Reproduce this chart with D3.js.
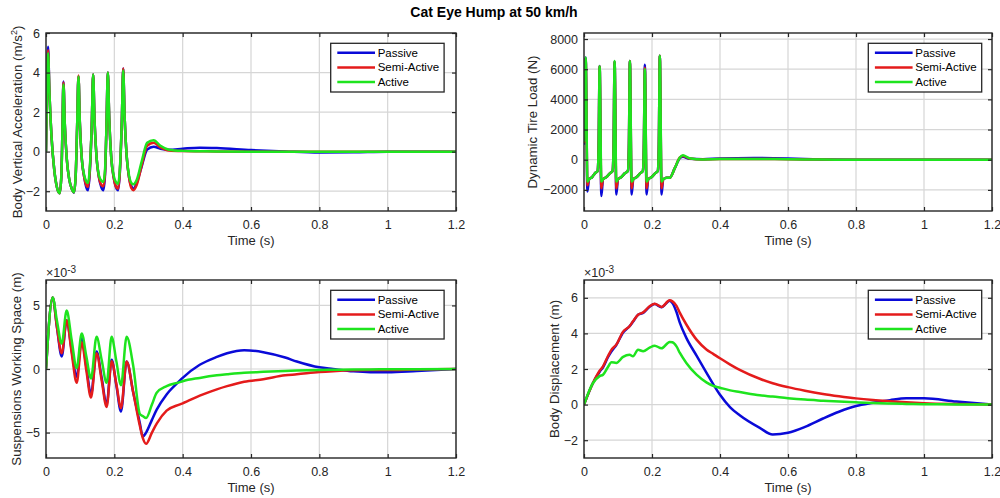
<!DOCTYPE html>
<html lang="en">

<head>
  <title>Cat Eye Hump at 50 km/h</title>
  <meta charset="UTF-8">
  <style>
    body {
      margin: 0;
      background: #fff;
    }
    svg {
      font-family: "Liberation Sans", Arial, sans-serif;
    }
  </style>
</head>

<body>
  <div id="container"></div>
  <script src="https://cdn.jsdelivr.net/npm/d3@7/dist/d3.min.js"></script>
  <script>
    const seriesNames = ['Passive', 'Semi-Active', 'Active'];
    const seriesColors = ['#0a0ad8', '#e41b1b', '#1ee41e'];
    const timeTicks = [0, 0.2, 0.4, 0.6, 0.8, 1, 1.2];

    // body vertical acceleration (m/s^2)
    const accTime = [0, 0.003, 0.006, 0.01, 0.016, 0.024, 0.032, 0.04, 0.045, 0.048, 0.051, 0.055, 0.061, 0.068, 0.076, 0.082,
      0.087, 0.091, 0.095, 0.099, 0.105, 0.112, 0.118, 0.123, 0.128, 0.134, 0.138, 0.142, 0.148, 0.155, 0.162, 0.168,
      0.173, 0.177, 0.181, 0.185, 0.191, 0.198, 0.205, 0.211, 0.216, 0.222, 0.226, 0.23, 0.236, 0.243, 0.25, 0.256,
      0.265, 0.28, 0.296, 0.315, 0.335, 0.36, 0.4, 0.45, 0.5, 0.6, 0.7, 0.8, 0.9, 1.0, 1.2];
    const accPassive = [0, 3.6, 5.3, 3.0, 0.8, -0.9, -1.8, -2.1, -1.2, 1.0, 3.55, 1.4, -0.4, -1.4, -1.9, -2.07,
      -1.2, 1.2, 3.8, 1.5, -0.4, -1.3, -1.8, -1.95, -1.1, 1.4, 3.9, 1.6, -0.3, -1.3, -1.8, -1.95,
      -1.1, 1.3, 4.0, 1.7, -0.3, -1.3, -1.8, -1.95, -1.1, 1.6, 4.2, 1.8, -0.2, -1.3, -1.75, -1.87,
      -1.6, -0.75, 0.1, 0.25, 0.15, 0.1, 0.15, 0.2, 0.18, 0.08, 0.01, -0.04, -0.03, 0, 0];
    const accSemi = [0, 3.5, 5.13, 3.0, 0.8, -0.9, -1.8, -2.1, -1.2, 1.0, 3.5, 1.4, -0.4, -1.4, -1.9, -2.05,
      -1.15, 1.2, 3.85, 1.5, -0.4, -1.3, -1.7, -1.78, -1.0, 1.4, 3.9, 1.6, -0.3, -1.3, -1.68, -1.75,
      -1.0, 1.3, 4.0, 1.7, -0.3, -1.3, -1.78, -1.87, -1.05, 1.6, 4.2, 1.8, -0.2, -1.3, -1.85, -1.95,
      -1.7, -0.7, 0.3, 0.45, 0.22, 0.06, 0.03, 0.02, 0.01, 0, 0, 0, 0, 0, 0];
    const accActive = [0, 3.4, 4.97, 3.0, 0.8, -0.9, -1.8, -2.1, -1.2, 1.0, 3.4, 1.4, -0.4, -1.4, -1.9, -2.05,
      -1.15, 1.2, 3.8, 1.5, -0.4, -1.2, -1.5, -1.58, -0.85, 1.4, 3.9, 1.6, -0.3, -1.2, -1.47, -1.53,
      -0.85, 1.3, 4.0, 1.7, -0.3, -1.2, -1.55, -1.62, -0.9, 1.6, 4.1, 1.8, -0.2, -1.2, -1.58, -1.65,
      -1.45, -0.5, 0.45, 0.58, 0.3, 0.1, 0.04, 0.02, 0.01, 0, 0, 0, 0, 0, 0];

    // dynamic tire load (N)
    const tireTime = [0, 0.005, 0.01, 0.015, 0.024, 0.032, 0.04, 0.043, 0.046, 0.051, 0.056, 0.066, 0.076, 0.084, 0.087,
      0.09, 0.095, 0.1, 0.11, 0.12, 0.129, 0.132, 0.135, 0.14, 0.145, 0.155, 0.165, 0.173, 0.176, 0.179, 0.184,
      0.189, 0.199, 0.209, 0.217, 0.22, 0.223, 0.228, 0.233, 0.243, 0.252, 0.267, 0.282, 0.291, 0.31, 0.35,
      0.4, 0.5, 0.6, 0.7, 0.8, 1.0, 1.2];
    const tirePassive = [1000, 6770, -2100, -1300, -1150, -900, -750, 800, 6220, -2400, -1300, -1150, -900, -750, 800,
      6500, -2300, -1300, -1150, -900, -750, 800, 6550, -2300, -1300, -1150, -900, -750, 800, 6290, -2300,
      -1300, -1150, -900, -750, 800, 6890, -2300, -1300, -1200, -1200, -560, 100, 200, 60, 30,
      80, 110, 80, 20, 0, 0, 0];
    const tireSemi = [1100, 6700, -1700, -1300, -1150, -900, -750, 800, 6200, -1900, -1300, -1150, -900, -750, 800,
      6500, -1900, -1300, -1150, -900, -750, 800, 6550, -1900, -1300, -1150, -900, -750, 800, 6100, -1900,
      -1300, -1150, -900, -750, 800, 6890, -1900, -1300, -1200, -1200, -560, 150, 250, 80, 20,
      40, 50, 30, 10, 0, 0, 0];
    const tireActive = [1200, 6770, -1450, -1300, -1150, -900, -750, 800, 6200, -1450, -1300, -1150, -900, -750, 800,
      6550, -1450, -1300, -1150, -900, -750, 800, 6550, -1450, -1300, -1150, -900, -750, 800, 6000, -1450,
      -1300, -1150, -900, -750, 800, 6890, -1450, -1300, -1200, -1200, -560, 150, 290, 100, 20,
      40, 50, 30, 10, 0, 0, 0];

    // suspension working space (x10^-3 m)
    const swsTime = [0, 0.0195, 0.032, 0.046, 0.0605, 0.075, 0.0898, 0.1045, 0.118, 0.1317, 0.148, 0.163, 0.1775, 0.192,
      0.206, 0.2195, 0.236, 0.255, 0.275, 0.283, 0.293, 0.31, 0.324, 0.353, 0.39, 0.4, 0.45, 0.5, 0.53, 0.58,
      0.636, 0.7, 0.734, 0.8, 0.84, 0.9, 0.95, 1.0, 1.085, 1.2];
    const swsPassive = [0, 5.63, 3.3, 0.98, 3.83, 1.5, -0.6, 2.41, 0.2, -2.0, 1.37, -0.7, -2.78, 0.72,
      -1.3, -3.34, 0.59, -1.8, -4.3, -5.31, -5.0, -4.0, -3.2, -2.0, -0.96, -0.7, 0.33, 0.95, 1.24, 1.48,
      1.32, 0.9, 0.59, 0.13, 0, -0.18, -0.25, -0.26, -0.16, 0];
    const swsSemi = [0, 5.63, 3.3, 1.24, 3.83, 1.3, -1.09, 2.1, -0.1, -2.25, 1.24, -0.9, -2.98, 0.6,
      -1.2, -3.08, 0.59, -1.8, -4.5, -5.4, -5.88, -5.0, -4.3, -3.28, -2.8, -2.7, -2.1, -1.6, -1.35, -1.0,
      -0.8, -0.5, -0.42, -0.24, -0.17, -0.1, -0.08, -0.08, -0.04, 0];
    const swsActive = [0, 5.63, 3.8, 2.0, 4.6, 2.3, 0.08, 2.8, 1.0, -0.75, 2.53, 0.7, -1.09, 2.53,
      0.6, -1.27, 2.53, 0.3, -3.55, -3.7, -3.86, -2.8, -1.87, -1.35, -1.05, -0.96, -0.7, -0.5, -0.42, -0.3,
      -0.22, -0.15, -0.12, -0.08, -0.06, -0.04, -0.03, -0.02, -0.01, 0];

    // body displacement (x10^-3 m)
    const dispTime = [0, 0.026, 0.046, 0.056, 0.07, 0.081, 0.095, 0.115, 0.134, 0.144, 0.159, 0.174, 0.193, 0.208, 0.228,
      0.252, 0.26, 0.272, 0.282, 0.301, 0.331, 0.36, 0.38, 0.4, 0.43, 0.458, 0.517, 0.555, 0.6, 0.65, 0.703,
      0.75, 0.8, 0.85, 0.9, 0.948, 1.0, 1.095, 1.2];
    const dispPassive = [0, 1.2, 1.85, 2.1, 2.65, 3.0, 3.35, 4.05, 4.4, 4.65, 5.05, 5.15, 5.5, 5.65, 5.47,
      5.83, 5.7, 5.2, 4.59, 3.75, 2.75, 1.8, 1.15, 0.55, -0.15, -0.6, -1.31, -1.68, -1.58, -1.25, -0.78,
      -0.4, -0.08, 0.1, 0.25, 0.35, 0.35, 0.17, 0];
    const dispSemi = [0, 1.2, 1.9, 2.15, 2.7, 3.09, 3.37, 4.1, 4.4, 4.68, 5.05, 5.18, 5.52, 5.67, 5.49,
      5.86, 5.8, 5.55, 5.15, 4.5, 3.65, 3.1, 2.85, 2.6, 2.25, 1.95, 1.45, 1.2, 0.98, 0.78, 0.6,
      0.47, 0.35, 0.26, 0.19, 0.13, 0.08, 0.03, 0];
    const dispActive = [0, 1.2, 1.6, 1.68, 2.1, 2.38, 2.34, 2.68, 2.8, 2.72, 3.08, 3.0, 3.2, 3.31, 3.16,
      3.52, 3.5, 3.27, 2.9, 2.34, 1.68, 1.25, 1.05, 0.95, 0.8, 0.71, 0.52, 0.45, 0.36, 0.28, 0.22,
      0.17, 0.13, 0.09, 0.06, 0.04, 0.02, 0.01, 0];

    const panels = [
      { left: 46, top: 33, w: 410, h: 178, yDomain: [-3, 6], yTicks: [-2, 0, 2, 4, 6],
        time: accTime, series: [accPassive, accSemi, accActive],
        ylabel: ['Body Vertical Acceleration (m/s', '2', ')'], ylabelX: 24.5, legendX: 284.7, exp: false },
      { left: 584, top: 33, w: 408, h: 178, yDomain: [-3400, 8400], yTicks: [-2000, 0, 2000, 4000, 6000, 8000],
        time: tireTime, series: [tirePassive, tireSemi, tireActive],
        ylabel: ['Dynamic Tire Load (N)'], ylabelX: 47.5, legendX: 284.3, exp: false },
      { left: 46, top: 280, w: 410, h: 178, yDomain: [-7, 7], yTicks: [-5, 0, 5],
        time: swsTime, series: [swsPassive, swsSemi, swsActive],
        ylabel: ['Suspensions Working Space (m)'], ylabelX: 24.7, legendX: 284.7, exp: true },
      { left: 584, top: 280, w: 408, h: 178, yDomain: [-3, 7], yTicks: [-2, 0, 2, 4, 6],
        time: dispTime, series: [dispPassive, dispSemi, dispActive],
        ylabel: ['Body Displacement (m)'], ylabelX: 25, legendX: 284.3, exp: true }
    ];

    const svg = d3.select('#container')
      .append('svg')
      .attr('width', 1000)
      .attr('height', 498);

    svg.append('rect').attr('width', 1000).attr('height', 498).attr('fill', '#fff');

    svg.append('text')
      .attr('x', 494)
      .attr('y', 17)
      .attr('text-anchor', 'middle')
      .attr('font-size', 14)
      .attr('font-weight', 'bold')
      .attr('fill', '#000')
      .text('Cat Eye Hump at 50 km/h');

    panels.forEach(function (p, pi) {
      const x = d3.scaleLinear().domain([0, 1.2]).range([0, p.w]);
      const y = d3.scaleLinear().domain(p.yDomain).range([p.h, 0]);
      const g = svg.append('g').attr('transform', 'translate(' + p.left + ',' + p.top + ')');

      // grid
      g.selectAll('.gx').data(timeTicks).enter().append('line')
        .attr('x1', d => x(d)).attr('x2', d => x(d))
        .attr('y1', 0).attr('y2', p.h)
        .attr('stroke', '#d6d6d6').attr('stroke-width', 1.2);
      g.selectAll('.gy').data(p.yTicks).enter().append('line')
        .attr('x1', 0).attr('x2', p.w)
        .attr('y1', d => y(d)).attr('y2', d => y(d))
        .attr('stroke', '#d6d6d6').attr('stroke-width', 1.2);

      // lines
      const clipId = 'clip' + pi;
      g.append('clipPath').attr('id', clipId)
        .append('rect').attr('width', p.w).attr('height', p.h);
      const line = d3.line()
        .x(d => x(d[0]))
        .y(d => y(d[1]))
        .curve(d3.curveMonotoneX);
      p.series.forEach(function (vals, si) {
        const pts = p.time.map((t, i) => [t, vals[i]]);
        g.append('path')
          .datum(pts)
          .attr('clip-path', 'url(#' + clipId + ')')
          .attr('d', line)
          .attr('fill', 'none')
          .attr('stroke', seriesColors[si])
          .attr('stroke-width', 2.5)
          .attr('stroke-linejoin', 'round');
      });

      // axes
      const fmt = d3.format('~g');
      g.append('g').attr('transform', 'translate(0,' + p.h + ')')
        .call(d3.axisBottom(x).tickValues(timeTicks).tickFormat(fmt).tickSize(-4).tickPadding(9.5));
      g.append('g')
        .call(d3.axisLeft(y).tickValues(p.yTicks).tickFormat(fmt).tickSize(-4).tickPadding(6));
      g.append('g').call(d3.axisTop(x).tickValues(timeTicks).tickFormat('').tickSize(-4));
      g.append('g').attr('transform', 'translate(' + p.w + ',0)')
        .call(d3.axisRight(y).tickValues(p.yTicks).tickFormat('').tickSize(-4));
      g.selectAll('.domain').remove();
      g.selectAll('.tick line').attr('stroke', '#262626').attr('stroke-width', 1.2);
      g.selectAll('.tick text').attr('fill', '#262626').attr('font-size', 12.5)
        .attr('font-family', '"Liberation Sans", Arial, sans-serif');

      g.append('rect')
        .attr('width', p.w).attr('height', p.h)
        .attr('fill', 'none')
        .attr('stroke', '#262626')
        .attr('stroke-width', 1.4);

      // labels
      g.append('text')
        .attr('x', p.w / 2)
        .attr('y', p.h + 34)
        .attr('text-anchor', 'middle')
        .attr('font-size', 13)
        .attr('fill', '#262626')
        .text('Time (s)');

      const yl = g.append('text')
        .attr('transform', 'translate(' + (-p.ylabelX) + ',' + (p.h / 2) + ') rotate(-90)')
        .attr('text-anchor', 'middle')
        .attr('font-size', 13.3)
        .attr('fill', '#262626');
      yl.append('tspan').text(p.ylabel[0]);
      if (p.ylabel.length > 1) {
        yl.append('tspan').attr('dy', -5).attr('font-size', 9).text(p.ylabel[1]);
        yl.append('tspan').attr('dy', 5).text(p.ylabel[2]);
      }

      if (p.exp) {
        const ex = g.append('text')
          .attr('x', 0)
          .attr('y', -3)
          .attr('font-size', 12.5)
          .attr('fill', '#262626');
        ex.append('tspan').text('\u00d710');
        ex.append('tspan').attr('dy', -4).attr('font-size', 10).text('-3');
      }

      // legend
      const lg = g.append('g').attr('transform', 'translate(' + p.legendX + ',10.3)');
      lg.append('rect')
        .attr('width', 113.4).attr('height', 48.7)
        .attr('fill', '#fff')
        .attr('stroke', '#262626')
        .attr('stroke-width', 1.3);
      seriesNames.forEach(function (name, i) {
        const ly = 9.4 + i * 14.7;
        lg.append('line')
          .attr('x1', 6.6).attr('x2', 44.3)
          .attr('y1', ly).attr('y2', ly)
          .attr('stroke', seriesColors[i])
          .attr('stroke-width', 2.5);
        lg.append('text')
          .attr('x', 47)
          .attr('y', ly)
          .attr('dy', '0.35em')
          .attr('font-size', 11.5)
          .attr('fill', '#000')
          .text(name);
      });
    });
  </script>
</body>

</html>
